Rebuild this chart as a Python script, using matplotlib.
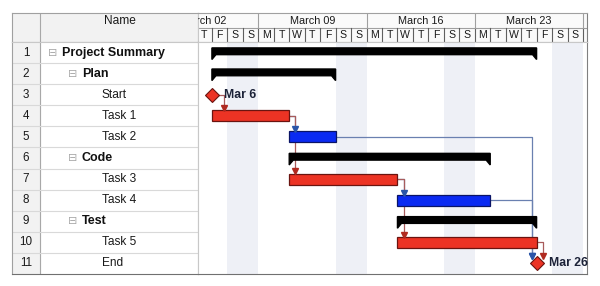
import datetime as dt
import matplotlib
matplotlib.use('Agg')
import matplotlib.pyplot as plt
import matplotlib.dates as mdates
from matplotlib.patches import Polygon

plt.rcParams['font.family'] = ['Liberation Sans', 'DejaVu Sans']

# ---- data ----
names = ['Project Summary', 'Plan', 'Start', 'Task 1', 'Task 2', 'Code',
         'Task 3', 'Task 4', 'Test', 'Task 5', 'End']
levels = [0, 1, 2, 2, 2, 1, 2, 2, 1, 2, 2]
kinds = ['summary', 'summary', 'milestone', 'task', 'task', 'summary',
         'task', 'task', 'summary', 'task', 'milestone']
starts = ['2015-03-06', '2015-03-06', '2015-03-06', '2015-03-06', '2015-03-11', '2015-03-11',
          '2015-03-11', '2015-03-18', '2015-03-18', '2015-03-18', '2015-03-27']
ends = ['2015-03-27', '2015-03-14', '2015-03-06', '2015-03-11', '2015-03-14', '2015-03-24',
        '2015-03-18', '2015-03-24', '2015-03-27', '2015-03-27', '2015-03-27']
critical = [False, False, True, True, False, False, True, False, False, True, True]
milestone_labels = {'Start': 'Mar 6', 'End': 'Mar 26'}
links = [('Start', 'Task 1'), ('Task 1', 'Task 2'), ('Task 1', 'Task 3'),
         ('Task 2', 'End'), ('Task 3', 'Task 4'), ('Task 3', 'Task 5'),
         ('Task 4', 'End'), ('Task 5', 'End')]
view_start = '2015-03-05'
view_days = 25.26

RED, RED_EDGE = '#EC3324', '#6A1410'
BLUE, BLUE_EDGE = '#0A2AF2', '#0A1466'
RED_LINK, BLUE_LINK = '#A85C5C', '#6A80B0'
SHADE = '#EEF0F6'
GRID = '#D9D9D9'
HEAD_BG = '#F2F2F2'

W, H = 600, 286
fig = plt.figure(figsize=(W / 100, H / 100), dpi=100)


def px_axes(x0, y0, x1, y1):
    a = fig.add_axes([x0 / W, 1 - y1 / H, (x1 - x0) / W, (y1 - y0) / H])
    a.set_xticks([])
    a.set_yticks([])
    return a


d0 = mdates.datestr2num(view_start)
xmin, xmax = d0 + 0.1, d0 + view_days
S = [mdates.datestr2num(s) for s in starts]
E = [mdates.datestr2num(e) for e in ends]
rows = list(range(1, len(names) + 1))
idx = {n: i for i, n in enumerate(names)}

# ---- left table header ----
ah = px_axes(12, 13, 198, 42)
ah.set_xlim(12, 198)
ah.set_ylim(29, 0)
ah.set_facecolor(HEAD_BG)
ah.axvline(40, color='#A8A8A8', lw=0.8)
ah.text(120, 8.5, 'Name', ha='center', va='center', fontsize=8.6, color='#1a1a1a')

# ---- left table body ----
at = px_axes(12, 42, 198, 274)
at.set_xlim(12, 198)
at.set_ylim(11.5, 0.5)
at.axvspan(12, 40, color=HEAD_BG, zorder=0)
at.axvline(40, color='#A8A8A8', lw=0.8)
for r in rows[:-1]:
    at.axhline(r + 0.5, color=GRID, lw=0.8)
for r, n, lv, k in zip(rows, names, levels, kinds):
    at.text(26, r, str(r), ha='center', va='center', fontsize=8.4, color='#1a1a1a')
    if k == 'summary':
        bx = 53 + 20 * lv
        at.text(bx, r, '\u229f', ha='center', va='center', fontsize=8,
                color='#A8A8A8', family='DejaVu Sans')
        at.text(bx + 9, r, n, ha='left', va='center', fontsize=9,
                fontweight='bold', color='#111111')
    else:
        at.text(102, r, n, ha='left', va='center', fontsize=8.6, color='#1a1a1a')

# ---- chart header ----
ach = px_axes(198, 13, 587, 42)
ach.set_xlim(xmin, xmax)
ach.set_ylim(29, 0)
ach.set_facecolor('#FAFAFA')
ach.axhline(15, color='#A0A0A0', lw=0.8)
day = dt.date(2015, 3, 2)
while day <= dt.date(2015, 3, 31):
    x = mdates.date2num(day)
    if x <= xmax:
        ach.plot([x, x], [15, 29], color='#606060', lw=0.8)
        if xmin < x + 0.5 < xmax:
            ach.text(x + 0.5, 22.3, 'MTWTFSS'[day.weekday()], ha='center', va='center',
                     fontsize=7.6, color='#1a1a1a', clip_on=True)
        if day.weekday() == 0:
            ach.plot([x, x], [0, 15], color='#A0A0A0', lw=0.8)
            if x + 3.5 < xmax:
                ach.text(x + 3.5, 7.5, day.strftime('March %d'), ha='center', va='center',
                         fontsize=7.8, color='#1a1a1a', clip_on=True)
    day += dt.timedelta(days=1)

# ---- chart body ----
ax = px_axes(198, 42, 587, 274)
ax.set_xlim(xmin, xmax)
ax.set_ylim(11.5, 0.5)
day = dt.date(2015, 3, 2)
while day <= dt.date(2015, 3, 31):
    if day.weekday() >= 5:
        ax.axvspan(mdates.date2num(day), mdates.date2num(day) + 1, color=SHADE, lw=0, zorder=0)
    day += dt.timedelta(days=1)

for r, n, k, s, e, c in zip(rows, names, kinds, S, E, critical):
    if k == 'summary':
        w = 0.26
        pts = [(s, r - 0.22), (e, r - 0.22), (e, r + 0.33), (e - w, r + 0.1),
               (s + w, r + 0.1), (s, r + 0.33)]
        ax.add_patch(Polygon(pts, closed=True, color='black', zorder=3))
    elif k == 'task':
        ax.barh(r, e - s, left=s, height=0.52, color=RED if c else BLUE,
                edgecolor=RED_EDGE if c else BLUE_EDGE, lw=0.9, zorder=3)
    else:
        ax.plot(s, r, marker='D', ms=7, color=RED, mec=RED_EDGE, mew=0.8, zorder=4)
        ax.annotate(milestone_labels[n], (s, r), xytext=(9, 0), textcoords='offset points',
                    ha='left', va='center', fontsize=8.8, fontweight='bold', color='#1C2238')

# links: blue first so red ones draw on top
for crit_pass in (False, True):
    for a, b in links:
        ia, ib = idx[a], idx[b]
        is_crit = critical[ia] and critical[ib]
        if is_crit != crit_pass:
            continue
        ra, rb = rows[ia], rows[ib]
        xa = E[ia] + (0.32 if kinds[ia] == 'milestone' else 0)
        if S[ib] > xa + 0.5:
            xt = S[ib] - 0.3
        else:
            xt = xa + (0.45 if kinds[ia] == 'milestone' else 0.4)
        yb = rb - (0.27 if kinds[ib] == 'milestone' else 0.26)
        lc = RED_LINK if is_crit else BLUE_LINK
        ac = '#B02A20' if is_crit else '#2A55A8'
        ax.plot([xa, xt, xt], [ra, ra, yb - 0.12], color=lc, lw=0.9, zorder=2)
        ax.plot(xt, yb - 0.1, marker='v', ms=4.8, color=ac, mec=ac, zorder=5)

# borders
for a in (ah, at, ach, ax):
    for sp in a.spines.values():
        sp.set_color('#C8C8C8')
        sp.set_linewidth(0.8)
for a in (ah, ach):
    a.spines['top'].set_color('#A0A0A0')
for a in (at, ax):
    a.spines['bottom'].set_color('#707070')
ah.spines['left'].set_color('#A0A0A0')
at.spines['left'].set_color('#A0A0A0')
ax.spines['right'].set_color('#808080')
ach.spines['right'].set_color('#808080')
ah.spines['bottom'].set_color('#A0A0A0')
ach.spines['bottom'].set_color('#A0A0A0')

fig.savefig('out.png', dpi=100)
